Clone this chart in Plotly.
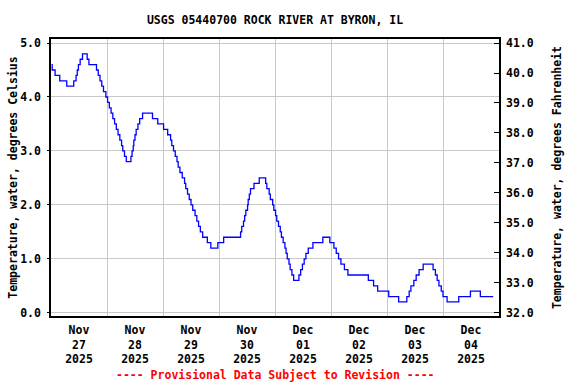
import plotly.graph_objects as go
import pandas as pd

# Hours since 2025-11-27 00:00 at which the reading changes, and the reading (deg C)
hours = [0.25, 0.5, 1.75, 3.75, 6.75, 9.75, 10.75, 11.25, 11.75, 12.5, 13.5, 15.5, 16.25,
         19.5, 20.25, 21.0, 21.75, 22.5, 23.5, 24.25, 25.0, 25.75, 26.5, 27.25, 28.0, 28.75,
         29.5, 30.25, 30.75, 31.5, 32.25, 34.25, 34.75, 35.25, 35.5, 36.0, 36.5, 37.25, 38.0,
         39.25, 43.5, 45.75, 48.25, 50.0, 51.25, 51.75, 52.5, 53.25, 54.0, 54.5, 55.25, 56.25,
         57.25, 57.75, 58.5, 59.25, 60.0, 60.75, 61.75, 62.5, 63.25, 64.0, 65.0, 67.0, 68.5,
         71.5, 74.0, 81.25, 81.75, 82.5, 83.0, 83.5, 84.25, 84.5, 85.0, 85.5, 87.0, 89.25,
         92.0, 92.5, 93.5, 94.0, 95.0, 95.5, 96.25, 96.75, 97.5, 98.25, 98.75, 99.5, 100.25,
         100.75, 101.25, 102.0, 102.5, 103.25, 104.0, 106.25, 107.0, 107.75, 108.5, 109.25,
         110.25, 112.25, 116.5, 119.5, 121.25, 122.25, 123.25, 124.25, 125.75, 127.25, 136.0,
         138.25, 140.0, 144.75, 149.0, 152.5, 153.5, 154.25, 155.5, 156.5, 157.75, 159.5,
         163.75, 164.75, 165.5, 166.25, 167.25, 168.0, 169.75, 174.75, 179.75, 184.0, 189.5]
temp_c = [4.6, 4.5, 4.4, 4.3, 4.2, 4.3, 4.4, 4.5, 4.6, 4.7, 4.8, 4.7, 4.6,
          4.5, 4.4, 4.3, 4.2, 4.1, 4.0, 3.9, 3.8, 3.7, 3.6, 3.5, 3.4, 3.3,
          3.2, 3.1, 3.0, 2.9, 2.8, 2.9, 3.0, 3.1, 3.2, 3.3, 3.4, 3.5, 3.6,
          3.7, 3.6, 3.5, 3.4, 3.3, 3.2, 3.1, 3.0, 2.9, 2.8, 2.7, 2.6, 2.5,
          2.4, 2.3, 2.2, 2.1, 2.0, 1.9, 1.8, 1.7, 1.6, 1.5, 1.4, 1.3, 1.2,
          1.3, 1.4, 1.5, 1.6, 1.7, 1.8, 1.9, 2.0, 2.1, 2.2, 2.3, 2.4, 2.5,
          2.4, 2.3, 2.2, 2.1, 2.0, 1.9, 1.8, 1.7, 1.6, 1.5, 1.4, 1.3, 1.2,
          1.1, 1.0, 0.9, 0.8, 0.7, 0.6, 0.7, 0.8, 0.9, 1.0, 1.1,
          1.2, 1.3, 1.4, 1.3, 1.2, 1.1, 1.0, 0.9, 0.8, 0.7, 0.6,
          0.5, 0.4, 0.3, 0.2, 0.3, 0.4, 0.5, 0.6, 0.7, 0.8, 0.9,
          0.8, 0.7, 0.6, 0.5, 0.4, 0.3, 0.2, 0.3, 0.4, 0.3, 0.3]

day_labels = ["Nov<br>27<br>2025", "Nov<br>28<br>2025", "Nov<br>29<br>2025", "Nov<br>30<br>2025",
              "Dec<br>01<br>2025", "Dec<br>02<br>2025", "Dec<br>03<br>2025", "Dec<br>04<br>2025"]
left_ticks = [0, 1, 2, 3, 4, 5]
right_ticks = [32, 33, 34, 35, 36, 37, 38, 39, 40, 41]

start = pd.Timestamp("2025-11-27 00:00")
times = start + pd.to_timedelta(hours, unit="h")
noons = [start + pd.Timedelta(days=i, hours=12) for i in range(len(day_labels))]
midnights = [start + pd.Timedelta(days=i) for i in range(1, len(day_labels))]

font = dict(family="DejaVu Sans Mono", size=11.5, color="black", weight="bold")
y_range = [-0.06, 5.075]
y2_range = [32 + 1.8 * v for v in y_range]
grid = "#c8c8c8"

fig = go.Figure()
fig.add_trace(go.Scatter(x=times, y=temp_c, mode="lines",
                         line=dict(color="#0000ff", width=1.3, shape="hv"),
                         hoverinfo="skip", showlegend=False))
fig.add_trace(go.Scatter(x=times, y=[32 + 1.8 * v for v in temp_c], yaxis="y2", mode="lines",
                         line=dict(color="rgba(0,0,0,0)", width=0), hoverinfo="skip",
                         showlegend=False))

fig.update_layout(
    width=576, height=384,
    margin=dict(l=51, r=77, t=39, b=68, autoexpand=False),
    paper_bgcolor="white", plot_bgcolor="white",
    showlegend=False,
    font=font,
    title=dict(text="USGS 05440700 ROCK RIVER AT BYRON, IL", x=0.5, xref="paper",
               xanchor="center", y=1 - 20 / 384, yref="container", yanchor="middle",
               font=font),
    xaxis=dict(type="date", range=[start, start + pd.Timedelta(days=8)], automargin=False,
               tickmode="array", tickvals=noons, ticktext=day_labels, ticks="",
               showgrid=False, zeroline=False, showline=True, mirror=True,
               linecolor="black", linewidth=1.5, tickfont=font, ticklabelstandoff=2,
               minor=dict(tickmode="array", tickvals=midnights, showgrid=True,
                          gridcolor=grid, gridwidth=1, ticks="")),
    yaxis=dict(range=y_range, tickmode="array", tickvals=left_ticks, automargin=False,
               ticktext=[f"{v:.1f}" for v in left_ticks], ticks="outside", ticklen=2,
               tickcolor="black", showgrid=True, gridcolor=grid, gridwidth=1,
               zeroline=False, showline=True, mirror=True, linecolor="black",
               linewidth=1.5, tickfont=font, ticklabelstandoff=4,
               title=dict(text="Temperature, water, degrees Celsius", font=font, standoff=0)),
    yaxis2=dict(range=y2_range, overlaying="y", side="right", tickmode="array",
                tickvals=right_ticks, ticktext=[f"{v:.1f}" for v in right_ticks],
                automargin=False,
                ticks="inside", ticklen=5, tickcolor="black", showgrid=False,
                zeroline=False, showline=False, tickfont=font, ticklabelstandoff=6,
                title=dict(text="Temperature, water, degrees Fahrenheit", font=font,
                           standoff=20)),
    annotations=[dict(text="---- Provisional Data Subject to Revision ----",
                      xref="paper", yref="paper", x=0.5, y=(315.7 - 375) / 276.4,
                      xanchor="center", yanchor="middle", showarrow=False,
                      font=dict(family="DejaVu Sans Mono", size=11.5, color="#ff0000",
                                weight="bold"))],
)

fig.write_html("out.html", config={"displayModeBar": False},
               post_script="document.body.style.margin='0';")
